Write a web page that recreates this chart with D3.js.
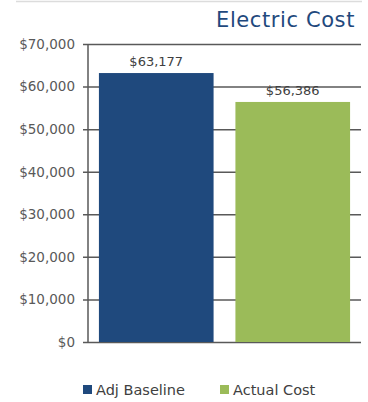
<!DOCTYPE html>
<html>
<head>
<meta charset="utf-8">
<script src="https://cdn.jsdelivr.net/npm/d3@7"></script>
<style>
  html, body { margin: 0; padding: 0; background: #fff; }
  svg { display: block; font-family: "DejaVu Sans", sans-serif; }
</style>
</head>
<body>
<svg id="chart" width="368" height="402"></svg>
<script>
const categories = ["Adj Baseline", "Actual Cost"];
const values = [63177, 56386];
const colors = ["#1F497D", "#9BBB59"];
const yTicks = [0, 10000, 20000, 30000, 40000, 50000, 60000, 70000];
const title = "Electric Cost";

const svg = d3.select("#chart");
const W = 368, H = 402;
const margin = { left: 88, right: 7, top: 44, bottom: 60 };
const font = "'DejaVu Sans', sans-serif";

const x = d3.scaleBand()
  .domain(categories)
  .range([margin.left, W - margin.right])
  .paddingInner(0.16)
  .paddingOuter(0.08);

const y = d3.scaleLinear()
  .domain([0, 70000])
  .range([H - margin.bottom, margin.top]);

const money = d => "$" + d3.format(",")(d);

// thin rule across the top
svg.append("line")
  .attr("x1", 16).attr("x2", 362)
  .attr("y1", 1.5).attr("y2", 1.5)
  .attr("stroke", "#dcdcdc").attr("stroke-width", 1.5);

svg.append("text")
  .attr("x", 355).attr("y", 27)
  .attr("text-anchor", "end")
  .attr("fill", "#1F497D")
  .attr("font-size", 21)
  .attr("letter-spacing", 0.6)
  .text(title);

// y axis with gridlines through the plot
const yAxis = d3.axisLeft(y)
  .tickValues(yTicks)
  .tickFormat(money)
  .tickSize(-(W - margin.right - margin.left))
  .tickPadding(13);

const gy = svg.append("g")
  .attr("transform", `translate(${margin.left},0)`)
  .call(yAxis);
gy.select(".domain").remove();
gy.selectAll(".tick line")
  .attr("stroke", "#595959").attr("stroke-width", 1.5)
  .attr("x1", -5);
gy.selectAll(".tick text")
  .attr("fill", "#595959").attr("font-size", 13.5)
  .attr("font-family", font);

svg.append("line")
  .attr("x1", margin.left).attr("x2", margin.left)
  .attr("y1", y(70000)).attr("y2", y(0))
  .attr("stroke", "#595959").attr("stroke-width", 1.5);

const data = categories.map((c, i) => ({ c, v: values[i], color: colors[i] }));

svg.append("g").selectAll("rect")
  .data(data).join("rect")
  .attr("x", d => x(d.c))
  .attr("width", x.bandwidth())
  .attr("y", d => y(d.v))
  .attr("height", d => y(0) - y(d.v))
  .attr("fill", d => d.color);

svg.append("g").selectAll("text")
  .data(data).join("text")
  .attr("x", d => x(d.c) + x.bandwidth() / 2)
  .attr("y", d => y(d.v) - 7)
  .attr("text-anchor", "middle")
  .attr("fill", "#404040").attr("font-size", 13)
  .text(d => money(d.v));

// legend
const legendX = [83, 220];
const lg = svg.append("g").selectAll("g")
  .data(data).join("g")
  .attr("transform", (d, i) => `translate(${legendX[i]},385)`);
lg.append("rect")
  .attr("width", 9).attr("height", 9)
  .attr("fill", d => d.color);
lg.append("text")
  .attr("x", 13).attr("y", 10)
  .attr("fill", "#404040").attr("font-size", 14.5)
  .text(d => d.c);
</script>
</body>
</html>
